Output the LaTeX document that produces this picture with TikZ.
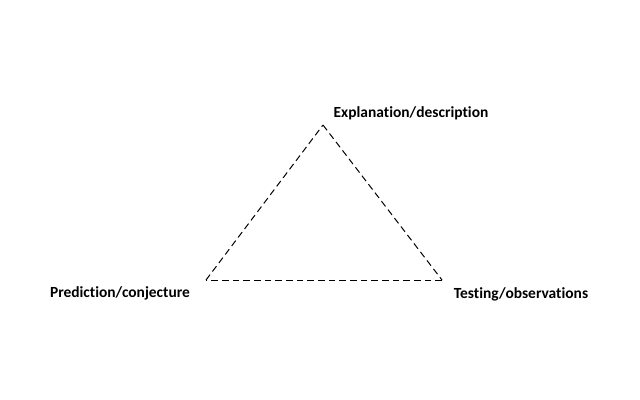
\documentclass[tikz,border=0pt]{standalone}
\usepackage{fontspec}
\setmainfont[Ligatures=NoCommon]{Carlito}
\begin{document}
\begin{tikzpicture}[x=0.75pt,y=-0.75pt,
    corner/.style={font=\bfseries\fontsize{11.6}{13}\selectfont, inner sep=0pt},
    side/.style={line width=0.75pt, dash pattern=on 5pt off 3pt}]
        \useasboundingbox (0,0) rectangle (640,400);

        \coordinate (EX) at (323,125);
        \coordinate (PR) at (206,280);
        \coordinate (TE) at (442,280);

        \node [corner] (EXL) at (411,113) {Explanation/description};
        \node [corner] (PRL) at (120,293) {Prediction/conjecture};
        \node [corner] (TEL) at (521,294) {Testing/observations};

        \draw[side] (EX) -- (TE);
        \draw[side] (TE) -- (PR);
        \draw[side] (PR) -- (EX);
    \end{tikzpicture}
\end{document}
